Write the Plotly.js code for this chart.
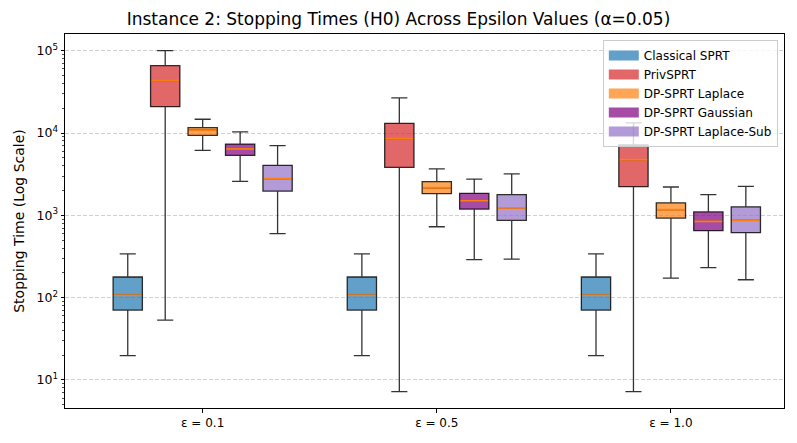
<!DOCTYPE html>
<html>
<head>
<meta charset="utf-8">
<script src="https://cdn.plot.ly/plotly-3.0.1.min.js"></script>
<style>html,body{margin:0;padding:0;background:#fff;}#chart{width:797px;height:443px;}</style>
</head>
<body>
<div id="chart"></div>
<script>
// ---- data ----
const categories = ['ε = 0.1', 'ε = 0.5', 'ε = 1.0'];
const seriesNames = ['Classical SPRT', 'PrivSPRT', 'DP-SPRT Laplace', 'DP-SPRT Gaussian', 'DP-SPRT Laplace-Sub'];

const classicalLower  = [19.7, 19.7, 19.7];
const classicalQ1     = [70.6, 70.6, 70.6];
const classicalMedian = [107, 107, 107];
const classicalQ3     = [178, 178, 178];
const classicalUpper  = [341, 341, 341];

const privLower  = [53.4, 7.2, 7.2];
const privQ1     = [20900, 3830, 2230];
const privMedian = [43300, 8540, 4740];
const privQ3     = [65800, 13100, 7150];
const privUpper  = [100000, 26800, 13300];

const laplaceLower  = [6170, 726, 173];
const laplaceQ1     = [9380, 1830, 927];
const laplaceMedian = [10800, 2160, 1170];
const laplaceQ3     = [11600, 2560, 1420];
const laplaceUpper  = [14700, 3660, 2210];

const gaussianLower  = [2590, 289, 231];
const gaussianQ1     = [5360, 1190, 650];
const gaussianMedian = [6400, 1500, 845];
const gaussianQ3     = [7340, 1850, 1100];
const gaussianUpper  = [10300, 2760, 1780];

const subLower  = [598, 294, 165];
const subQ1     = [1970, 869, 615];
const subMedian = [2790, 1230, 869];
const subQ3     = [4050, 1780, 1270];
const subUpper  = [7020, 3180, 2250];

const yTickVals = [10, 100, 1000, 10000, 100000];
const yTickText = ['10<sup>1</sup>', '10<sup>2</sup>', '10<sup>3</sup>', '10<sup>4</sup>', '10<sup>5</sup>'];

// ---- styling ----
const fillColors = ['rgba(31,119,180,0.7)', 'rgba(214,39,40,0.7)', 'rgba(255,127,14,0.7)', 'rgba(128,0,128,0.7)', 'rgba(147,112,200,0.7)'];
const stats = [
  [classicalLower, classicalQ1, classicalMedian, classicalQ3, classicalUpper],
  [privLower, privQ1, privMedian, privQ3, privUpper],
  [laplaceLower, laplaceQ1, laplaceMedian, laplaceQ3, laplaceUpper],
  [gaussianLower, gaussianQ1, gaussianMedian, gaussianQ3, gaussianUpper],
  [subLower, subQ1, subMedian, subQ3, subUpper]
];
const slot = 0.16, boxW = 0.125;
const groupPos = categories.map((c, i) => i);

const traces = [];
const medianTraces = [];
const legendTraces = [];
seriesNames.forEach((name, s) => {
  const off = (s - 2) * slot;
  const xs = groupPos.map(p => p + off);
  const [lo, q1, md, q3, up] = stats[s];
  traces.push({
    type: 'box', name: name, x: xs, showlegend: false,
    lowerfence: lo, q1: q1, median: md, q3: q3, upperfence: up,
    width: boxW, whiskerwidth: 0.55, boxpoints: false,
    fillcolor: fillColors[s],
    line: {color: 'rgba(0,0,0,0.8)', width: 1.3},
    hoverinfo: 'skip'
  });
  medianTraces.push({
    type: 'scatter', mode: 'markers', x: xs, y: md, showlegend: false, hoverinfo: 'skip',
    marker: {symbol: 'line-ew', size: 20, color: '#ff7f0e', line: {color: '#ff7f0e', width: 1.8}}
  });
  legendTraces.push({
    type: 'scatter', mode: 'lines', name: name, x: [null], y: [null], hoverinfo: 'skip',
    line: {color: fillColors[s], width: 10}
  });
});

const layout = {
  width: 797, height: 443,
  margin: {l: 65, r: 13, t: 34, b: 35},
  paper_bgcolor: '#fff', plot_bgcolor: '#fff',
  font: {family: 'DejaVu Sans, sans-serif', color: '#000', size: 12},
  title: {text: 'Instance 2: Stopping Times (H0) Across Epsilon Values (α=0.05)', font: {size: 17, color: '#000'}, x: 0.5, xanchor: 'center', y: 0.957, yanchor: 'middle'},
  boxmode: 'overlay',
  showlegend: true,
  legend: {x: 0.748, y: 0.984, xanchor: 'left', yanchor: 'top', bgcolor: 'rgba(255,255,255,0.8)', bordercolor: '#cccccc', borderwidth: 1, font: {size: 12, color: '#000'}, tracegroupgap: 0},
  xaxis: {
    range: [-0.588, 2.483], tickmode: 'array', tickvals: groupPos, ticktext: categories,
    showgrid: false, zeroline: false, showline: true, mirror: true, linecolor: '#000', linewidth: 1,
    ticks: 'outside', ticklen: 3.5, tickcolor: '#000', tickfont: {size: 12, color: '#000'}
  },
  yaxis: {
    type: 'log', range: [0.659, 5.203], tickmode: 'array', tickvals: yTickVals, ticktext: yTickText,
    showgrid: true, gridcolor: '#d0d0d0', griddash: '4px,2px', gridwidth: 1,
    zeroline: false, showline: true, mirror: true, linecolor: '#000', linewidth: 1,
    ticks: 'outside', ticklen: 3.5, tickcolor: '#000', tickfont: {size: 12.5, color: '#000'},
    minor: {ticks: 'outside', ticklen: 2, tickcolor: '#000', tickwidth: 0.7, showgrid: false, dtick: 'D1'},
    title: {text: 'Stopping Time (Log Scale)', font: {size: 14, color: '#000'}, standoff: 8}
  }
};

Plotly.newPlot('chart', traces.concat(medianTraces).concat(legendTraces), layout, {displayModeBar: false, staticPlot: true});
</script>
</body>
</html>
